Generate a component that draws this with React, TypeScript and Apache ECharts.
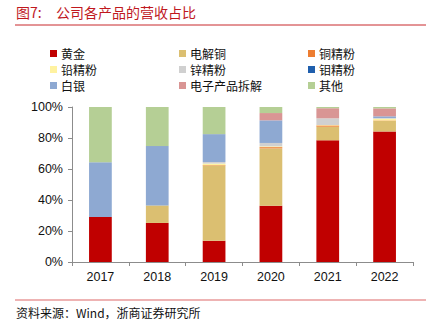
import React, { useEffect, useRef } from "react";
import * as echarts from "echarts";

const categories = ["2017", "2018", "2019", "2020", "2021", "2022"];
const gold = [29.0, 25.2, 13.7, 36.3, 78.5, 84.2];
const copper = [0, 11.3, 48.5, 37.0, 8.8, 6.8];
const copperConc = [0, 0, 0.3, 0.8, 0.8, 0.3];
const lead = [0, 0, 1.0, 0.5, 0.3, 1.2];
const zinc = [0, 0, 1.0, 2.2, 4.3, 0.3];
const moly = [0, 0, 0, 0, 0, 0];
const silver = [35.3, 38.3, 18.0, 14.6, 0, 1.2];
const ewaste = [0, 0, 0, 4.7, 6.5, 5.1];
const other = [35.7, 25.2, 17.5, 3.9, 0.8, 0.9];

const seriesDefs = [
  { name: "黄金", data: gold, color: "#C00000" },
  { name: "电解铜", data: copper, color: "#DBBF71" },
  { name: "铜精粉", data: copperConc, color: "#ED7D31" },
  { name: "铅精粉", data: lead, color: "#FFF2A0" },
  { name: "锌精粉", data: zinc, color: "#D0D0D0" },
  { name: "钼精粉", data: moly, color: "#1F5FAD" },
  { name: "白银", data: silver, color: "#8EA9D2" },
  { name: "电子产品拆解", data: ewaste, color: "#D99594" },
  { name: "其他", data: other, color: "#B5CF95" },
];

const yTicks = [0, 20, 40, 60, 80, 100];

export default function App() {
  const ref = useRef<HTMLDivElement>(null);
  useEffect(() => {
    if (!ref.current) return;
    const chart = echarts.init(ref.current, null, { renderer: "svg" });
    const legendCol = (names: string[], left: number) => ({
      orient: "vertical",
      left,
      top: 47,
      icon: "rect",
      itemWidth: 7,
      itemHeight: 7,
      itemGap: 3,
      selectedMode: false,
      padding: 0,
      textStyle: {
        fontSize: 12,
        lineHeight: 13,
        color: "#111",
        fontFamily: "Noto Sans CJK SC",
        padding: [0, 0, 0, -1],
      },
      data: names,
    });
    chart.setOption({
      animation: false,
      backgroundColor: "#fff",
      grid: { left: 72, right: 23, top: 107, bottom: 64 },
      legend: [
        legendCol(["黄金", "铅精粉", "白银"], 50),
        legendCol(["电解铜", "锌精粉", "电子产品拆解"], 179),
        legendCol(["铜精粉", "钼精粉", "其他"], 308),
      ],
      xAxis: {
        type: "category",
        data: categories,
        axisLine: { lineStyle: { color: "#8c8c8c", width: 1 } },
        axisTick: { show: true, length: 4, lineStyle: { color: "#8c8c8c" } },
        axisLabel: {
          margin: 8,
          fontSize: 12.5,
          color: "#111",
          fontFamily: "Liberation Sans",
        },
      },
      yAxis: {
        type: "value",
        min: yTicks[0],
        max: yTicks[yTicks.length - 1],
        interval: 20,
        splitLine: { show: false },
        axisLine: { show: true, lineStyle: { color: "#8c8c8c", width: 1 } },
        axisTick: { show: true, length: 4, lineStyle: { color: "#8c8c8c" } },
        axisLabel: {
          margin: 9,
          fontSize: 12.5,
          color: "#111",
          fontFamily: "Liberation Sans",
          formatter: "{value}%",
        },
      },
      series: seriesDefs.map((s) => ({
        name: s.name,
        type: "bar",
        stack: "total",
        barWidth: "40%",
        data: s.data,
        itemStyle: { color: s.color },
      })),
      graphic: [
        {
          type: "text",
          left: 16,
          top: 5,
          style: {
            text: "图7:",
            fontSize: 14,
            fill: "#C0181E",
            fontFamily: "Noto Sans CJK SC",
          },
        },
        {
          type: "text",
          left: 56,
          top: 5,
          style: {
            text: "公司各产品的营收占比",
            fontSize: 14,
            fill: "#C0181E",
            fontFamily: "Noto Sans CJK SC",
          },
        },
        {
          type: "line",
          shape: { x1: 15, y1: 25, x2: 426, y2: 25 },
          style: { stroke: "#C8282D", lineWidth: 1 },
        },
        {
          type: "line",
          shape: { x1: 15, y1: 300, x2: 426, y2: 300 },
          style: { stroke: "#E89A9A", lineWidth: 1.5 },
        },
        {
          type: "text",
          left: 16,
          top: 306,
          style: {
            text: "资料来源：Wind，浙商证券研究所",
            fontSize: 12,
            fill: "#111",
            fontFamily: "Noto Sans CJK SC",
          },
        },
      ],
    });
    return () => chart.dispose();
  }, []);
  return (
    <div
      ref={ref}
      style={{ position: "fixed", left: 0, top: 0, width: 436, height: 326, background: "#fff" }}
    />
  );
}
